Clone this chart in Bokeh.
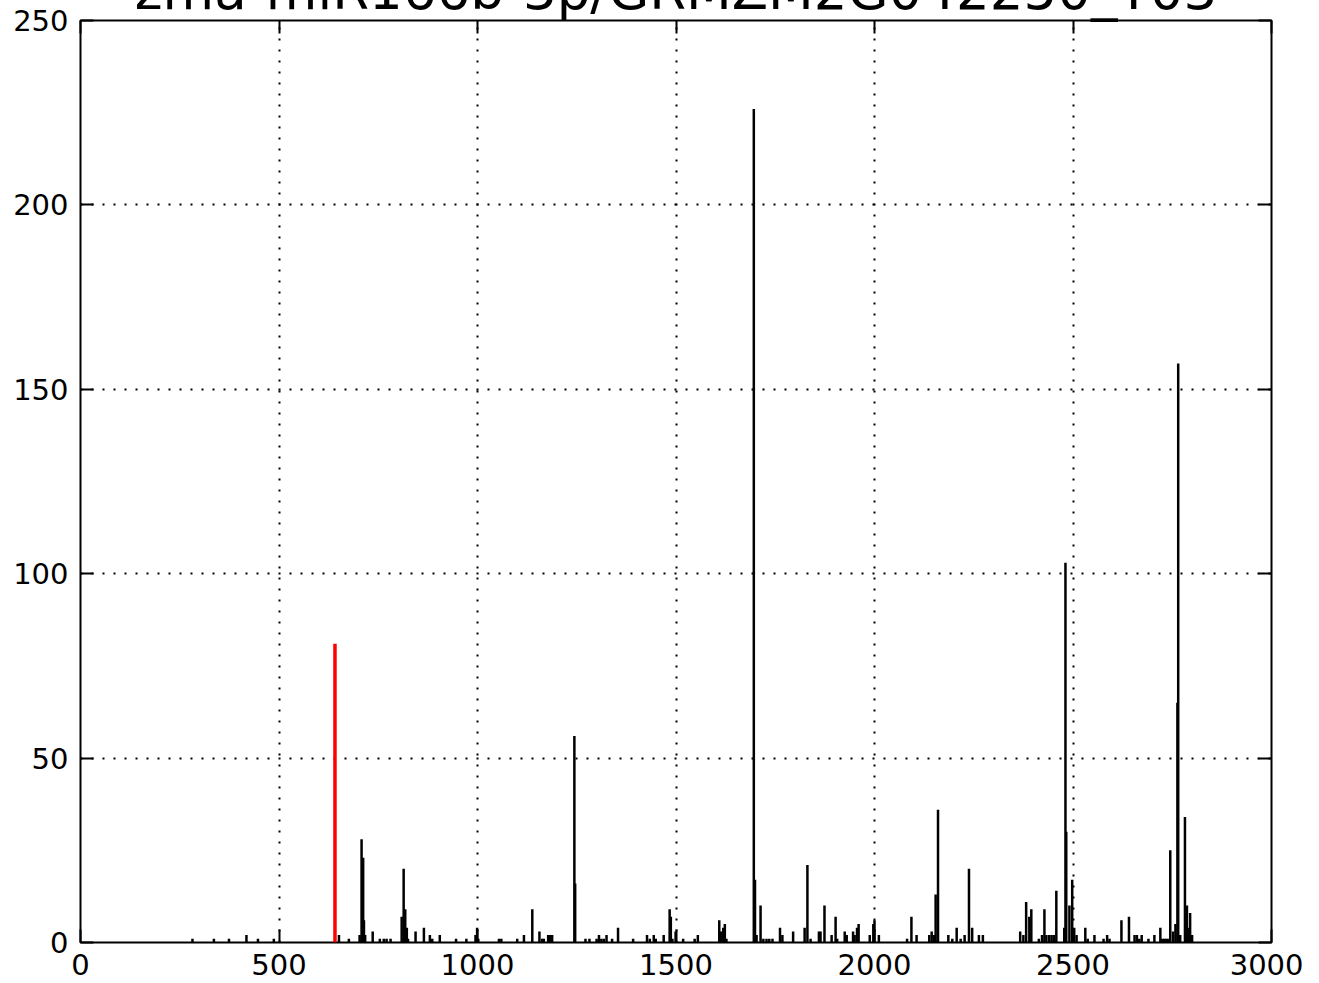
from bokeh.plotting import figure
from bokeh.models import ColumnDataSource, Range1d, LinearAxis, FixedTicker, CustomJSTickFormatter
from bokeh.embed import file_html
from bokeh.resources import INLINE

title_text = "zma-miR166b-3p/GRMZM2G042250_T03"

# degradome read positions / counts (black) and the cleavage site (red)
positions = [282, 336, 374, 418, 447, 487, 651, 676, 703, 708, 712, 714, 717, 736,
             754, 764, 771, 781, 809, 814, 818, 822, 825, 844, 865, 880, 886, 905,
             946, 972, 995, 999, 1002, 1054, 1060, 1100, 1117, 1138, 1156, 1163, 1167,
             1178, 1183, 1188, 1244, 1246, 1272, 1282, 1300, 1306, 1312, 1318, 1325,
             1339, 1354, 1392, 1427, 1434, 1444, 1449, 1469, 1484, 1487, 1491, 1499,
             1518, 1547, 1555, 1609, 1614, 1619, 1623, 1627, 1696, 1699, 1703, 1713,
             1720, 1728, 1735, 1743, 1762, 1768, 1795, 1824, 1831, 1839, 1860, 1864,
             1874, 1892, 1902, 1906, 1925, 1930, 1946, 1950, 1956, 1960, 1988, 1997,
             2000, 2011, 2082, 2093, 2106, 2138, 2144, 2150, 2154, 2160, 2186, 2196,
             2207, 2217, 2227, 2238, 2246, 2263, 2273, 2367, 2375, 2382, 2390, 2395,
             2414, 2422, 2428, 2433, 2440, 2446, 2452, 2458, 2478, 2481, 2483, 2491,
             2498, 2503, 2509, 2531, 2537, 2554, 2577, 2586, 2592, 2622, 2641, 2655,
             2661, 2667, 2673, 2690, 2705, 2720, 2725, 2730, 2735, 2740, 2745, 2752,
             2758, 2765, 2763, 2770, 2782, 2787, 2792, 2795, 2800]
counts = [1, 1, 1, 2, 1, 1, 2, 1, 2, 28, 23, 6, 2, 3,
          1, 1, 1, 1, 7, 20, 9, 4, 1, 3, 4, 2, 1, 2,
          1, 1, 2, 4, 1, 1, 1, 1, 2, 9, 3, 1, 1,
          2, 2, 2, 56, 16, 1, 1, 1, 2, 1, 1, 2,
          1, 4, 1, 2, 1, 2, 1, 2, 9, 7, 1, 3,
          1, 1, 2, 6, 3, 4, 5, 1, 226, 17, 2, 10,
          1, 1, 1, 1, 4, 2, 3, 4, 21, 1, 3, 3,
          10, 2, 7, 1, 3, 2, 3, 2, 4, 5, 2, 5,
          6, 2, 1, 7, 2, 2, 3, 2, 13, 36, 2, 1,
          4, 1, 2, 20, 4, 2, 2, 3, 2, 11, 7, 9,
          1, 2, 9, 2, 2, 2, 2, 14, 4, 103, 30, 10,
          17, 4, 2, 4, 1, 2, 1, 2, 1, 6, 7, 2,
          2, 1, 2, 1, 2, 4, 1, 1, 1, 1, 25, 3,
          5, 157, 65, 2, 34, 10, 4, 8, 2]
site_position = [641]
site_count = [81]

x_ticks = [0, 500, 1000, 1500, 2000, 2500, 3000]
y_ticks = [0, 50, 100, 150, 200, 250]

FONT = "DejaVu Sans"
TOP = 80     # room for the (partly clipped) title above the frame
SHIFT = 60   # figure is moved up so the frame top sits at y=20

p = figure(width=1303, height=TOP + 922 + 39, output_backend="svg", toolbar_location=None,
           x_range=Range1d(0, 3000), y_range=Range1d(0, 250),
           x_axis_location=None, y_axis_location=None,
           min_border_left=80, min_border_right=32, min_border_top=TOP, min_border_bottom=39)
p.styles = {"margin-top": f"-{SHIFT}px"}
p.background_fill_color = "white"
p.border_fill_color = "white"
p.outline_line_color = "black"
p.outline_line_width = 2

p.title.text = title_text
p.title.align = "center"
p.title.vertical_align = "bottom"
p.title.text_font = FONT
p.title.text_font_size = "53px"
p.title.text_font_style = "normal"
p.title.text_color = "black"
p.title.standoff = 0

def style_axis(ax, ticks, labels=True):
    ax.ticker = FixedTicker(ticks=ticks)
    ax.axis_line_color = None
    ax.major_tick_in = 13
    ax.major_tick_out = 0
    ax.major_tick_line_width = 2
    ax.major_tick_line_color = "black"
    ax.minor_tick_line_color = None
    if labels:
        ax.major_label_text_font = FONT
        ax.major_label_text_font_size = "29px"
        ax.major_label_text_color = "black"
    else:
        ax.formatter = CustomJSTickFormatter(code="return ''")
        ax.major_label_text_font_size = "0px"
        ax.major_label_standoff = 0

bx = LinearAxis()
lx = LinearAxis()
tx = LinearAxis()
rx = LinearAxis()
style_axis(bx, x_ticks)
style_axis(lx, y_ticks)
style_axis(tx, x_ticks, labels=False)
style_axis(rx, y_ticks, labels=False)
bx.major_label_standoff = 11
lx.major_label_standoff = 12
p.add_layout(bx, "below")
p.add_layout(lx, "left")
p.add_layout(tx, "above")
p.add_layout(rx, "right")

p.xgrid.ticker = FixedTicker(ticks=x_ticks)
p.ygrid.ticker = FixedTicker(ticks=y_ticks)
for g in (p.xgrid, p.ygrid):
    g.grid_line_color = "black"
    g.grid_line_width = 2
    g.grid_line_dash = "2 9"

src = ColumnDataSource(dict(x=positions, y=counts, y0=[0] * len(counts)))
p.segment(x0="x", y0="y0", x1="x", y1="y", source=src, line_color="black", line_width=2.5)

site = ColumnDataSource(dict(x=site_position, y=site_count, y0=[0]))
p.segment(x0="x", y0="y0", x1="x", y1="y", source=site, line_color="#ff0000", line_width=3.5)

open("out.html", "w").write(file_html(p, INLINE))
